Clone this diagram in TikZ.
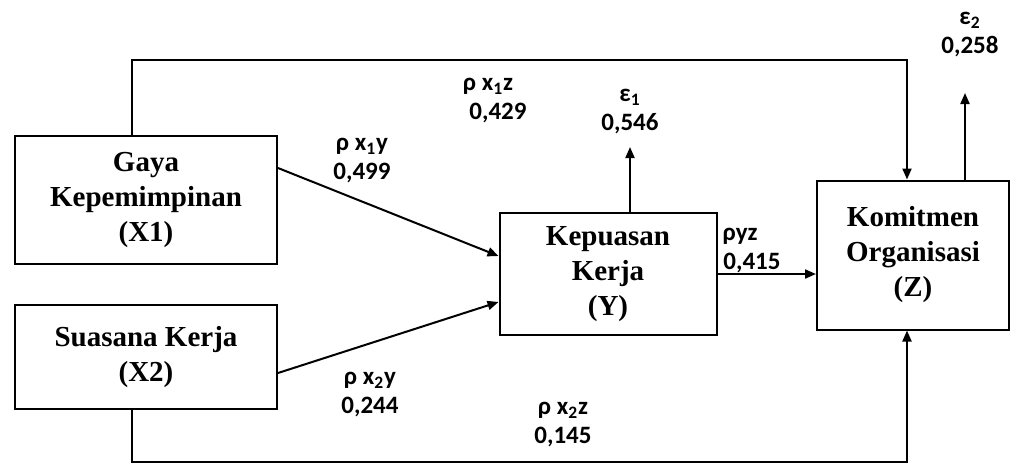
\documentclass[tikz,border=0pt]{standalone}
\usepackage{fontspec}
\setmainfont{Liberation Serif}
\newfontfamily\coeffont{Carlito}
\usetikzlibrary{arrows.meta}

\begin{document}
\begin{tikzpicture}[x=0.5pt,y=-0.5pt,line width=1pt,
    >={Triangle[length=5.5pt,width=4.5pt]},
    var/.style={draw,align=center,inner sep=0pt,
      font=\bfseries\fontsize{14.5}{17.5}\selectfont},
    coef/.style={align=center,inner sep=0pt,
      font=\coeffont\bfseries\fontsize{12.5}{14.5}\selectfont}]
  \useasboundingbox (0,0) rectangle (1013,467);

  % variabel
  \node[var,minimum width=131pt,minimum height=64pt] (x1) at (146,200) {Gaya\\Kepemimpinan\\(X1)};
  \node[var,minimum width=131pt,minimum height=52pt] (x2) at (146,357) {Suasana Kerja\\(X2)};
  \node[var,minimum width=108.5pt,minimum height=61pt] (y) at (608,274) {Kepuasan\\Kerja\\(Y)};
  \node[var,minimum width=96pt,minimum height=74.5pt] (z) at (913,255) {Komitmen\\Organisasi\\(Z)};

  % titik bantu
  \coordinate (tl) at (132,60);
  \coordinate (tr) at (907,60);
  \coordinate (bl) at (132,462);
  \coordinate (br) at (907,462);
  \coordinate (ey) at (630,147);
  \coordinate (ez) at (965,93);

  % koefisien jalur
  \node[coef] (p1y) at (362,161) {ρ x\textsubscript{1}y\\0,499};
  \node[coef] (p1z) at (488,101) {ρ x\textsubscript{1}z\\\hspace*{10pt}0,429};
  \node[coef] (e1) at (630,112) {ε\textsubscript{1}\\0,546};
  \node[coef] (e2) at (970,35) {ε\textsubscript{2}\\0,258};
  \node[coef] (pyz) at (752,251) {ρyz\hspace*{12pt}\\0,415};
  \node[coef] (p2y) at (370,395) {ρ x\textsubscript{2}y\\0,244};
  \node[coef] (p2z) at (563,425) {ρ x\textsubscript{2}z\\0,145};

  \path[->]
  ([yshift=16pt]x1.east) edge ([yshift=9pt]y.west)
  ([yshift=-8pt]x2.east) edge ([yshift=-14pt]y.west)
  (y.east) edge (y.east -| z.west)
  (y.north -| ey) edge (ey)
  (z.north -| ez) edge (ez);

  % jalur langsung X ke Z
  \draw[->] (x1.north -| tl) -- (tl) -- (tr) -- (tr |- z.north);
  \draw[->] (x2.south -| bl) -- (bl) -- (br) -- (br |- z.south);
\end{tikzpicture}
\end{document}
